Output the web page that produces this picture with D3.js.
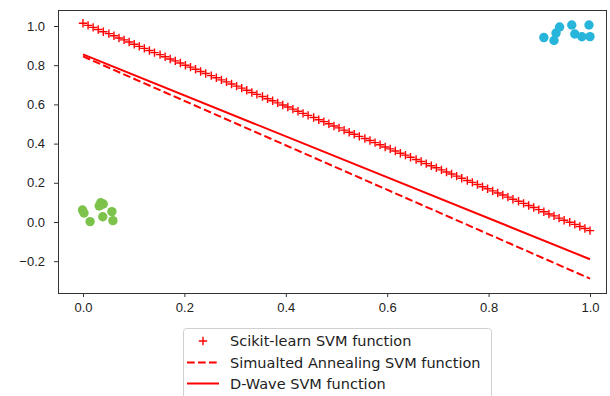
<!DOCTYPE html>
<html>
<head>
<meta charset="utf-8">
<script src="https://cdn.jsdelivr.net/npm/d3@7"></script>
<style>
  body { margin: 0; background: #fff; }
  svg { display: block; font-family: "DejaVu Sans", sans-serif; }
  .axis text { font-size: 13px; fill: #222; }
  .axis path, .axis line { stroke: #333; }
  .legend text { font-size: 14.5px; fill: #222; }
</style>
</head>
<body>
<script>
//execute script when window is loaded
window.onload = function(){

    //SVG dimension variables
    var w = 610, h = 396;

    //scikit-learn SVM function samples
    var scikitX = [0.000, 0.010, 0.020, 0.030, 0.040, 0.051, 0.061, 0.071, 0.081, 0.091,
        0.101, 0.111, 0.121, 0.131, 0.141, 0.152, 0.162, 0.172, 0.182, 0.192,
        0.202, 0.212, 0.222, 0.232, 0.242, 0.253, 0.263, 0.273, 0.283, 0.293,
        0.303, 0.313, 0.323, 0.333, 0.343, 0.354, 0.364, 0.374, 0.384, 0.394,
        0.404, 0.414, 0.424, 0.434, 0.444, 0.455, 0.465, 0.475, 0.485, 0.495,
        0.505, 0.515, 0.525, 0.535, 0.545, 0.556, 0.566, 0.576, 0.586, 0.596,
        0.606, 0.616, 0.626, 0.636, 0.646, 0.657, 0.667, 0.677, 0.687, 0.697,
        0.707, 0.717, 0.727, 0.737, 0.747, 0.758, 0.768, 0.778, 0.788, 0.798,
        0.808, 0.818, 0.828, 0.838, 0.848, 0.859, 0.869, 0.879, 0.889, 0.899,
        0.909, 0.919, 0.929, 0.939, 0.949, 0.960, 0.970, 0.980, 0.990, 1.000];
    var scikitY = [1.014, 1.003, 0.993, 0.982, 0.971, 0.961, 0.950, 0.939, 0.929, 0.918,
        0.907, 0.896, 0.886, 0.875, 0.864, 0.854, 0.843, 0.832, 0.822, 0.811,
        0.800, 0.790, 0.779, 0.768, 0.758, 0.747, 0.736, 0.725, 0.715, 0.704,
        0.693, 0.683, 0.672, 0.661, 0.651, 0.640, 0.629, 0.619, 0.608, 0.597,
        0.587, 0.576, 0.565, 0.554, 0.544, 0.533, 0.522, 0.512, 0.501, 0.490,
        0.480, 0.469, 0.458, 0.448, 0.437, 0.426, 0.416, 0.405, 0.394, 0.383,
        0.373, 0.362, 0.351, 0.341, 0.330, 0.319, 0.309, 0.298, 0.287, 0.277,
        0.266, 0.255, 0.245, 0.234, 0.223, 0.212, 0.202, 0.191, 0.180, 0.170,
        0.159, 0.148, 0.138, 0.127, 0.116, 0.106, 0.095, 0.084, 0.074, 0.063,
        0.052, 0.041, 0.031, 0.020, 0.009, -0.001, -0.012, -0.023, -0.033, -0.044];

    //simulated annealing and d-wave lines (end points)
    var lineX = [0, 1];
    var annealY = [0.845, -0.289];
    var dwaveY = [0.855, -0.190];

    //class -1 points
    var greenX = [-0.001, 0.002, 0.014, 0.035, 0.040, 0.032, 0.039, 0.057, 0.059];
    var greenY = [0.061, 0.046, 0.002, 0.098, 0.092, 0.082, 0.027, 0.053, 0.007];

    //class +1 points
    var blueX = [0.909, 0.929, 0.933, 0.940, 0.964, 0.970, 0.984, 0.998, 1.000];
    var blueY = [0.941, 0.926, 0.964, 0.995, 1.005, 0.959, 0.945, 1.005, 0.946];

    //tick values
    var xTicks = [0.0, 0.2, 0.4, 0.6, 0.8, 1.0];
    var yTicks = [-0.2, 0.0, 0.2, 0.4, 0.6, 0.8, 1.0];

    //legend labels
    var legendLabels = ["Scikit-learn SVM function", "Simualted Annealing SVM function", "D-Wave SVM function"];

    //axes box
    var left = 58, right = 606, top = 10, bottom = 293;

    //create the SVG container
    var container = d3.select("body")
        .append("svg")
        .attr("width", w)
        .attr("height", h);

    //create x scale
    var x = d3.scaleLinear()
        .range([left, right])
        .domain([-25 / 507, 1 + 16 / 507]);

    //create y scale
    var y = d3.scaleLinear()
        .range([bottom, top])
        .domain([-71 / 196, 1 + 16 / 196]);

    var fmt = function(d){
        return d3.format(".1f")(d).replace("-", "\u2212");
    };

    //axes
    var xAxis = container.append("g")
        .attr("class", "axis")
        .attr("transform", "translate(0," + bottom + ")")
        .call(d3.axisBottom(x).tickValues(xTicks).tickFormat(fmt).tickSizeInner(4).tickSizeOuter(0).tickPadding(6));
    xAxis.select(".domain").remove();

    var yAxis = container.append("g")
        .attr("class", "axis")
        .attr("transform", "translate(" + left + ",0)")
        .call(d3.axisLeft(y).tickValues(yTicks).tickFormat(fmt).tickSizeInner(4).tickSizeOuter(0).tickPadding(9));
    yAxis.select(".domain").remove();

    //frame
    container.append("rect")
        .attr("x", left + 0.5)
        .attr("y", top + 0.5)
        .attr("width", right - left)
        .attr("height", bottom - top)
        .style("fill", "none")
        .style("stroke", "#333")
        .style("stroke-width", 1);

    //scatter points
    var pts = [
        { xs: greenX, ys: greenY, color: "#7dc24a" },
        { xs: blueX, ys: blueY, color: "#27b5db" }
    ];
    pts.forEach(function(p){
        container.selectAll(null)
            .data(d3.range(p.xs.length))
            .enter()
            .append("circle")
            .attr("cx", function(i){ return x(p.xs[i]); })
            .attr("cy", function(i){ return y(p.ys[i]); })
            .attr("r", 4.7)
            .style("fill", p.color);
    });

    //line generator
    var line = d3.line()
        .x(function(d){ return x(d[0]); })
        .y(function(d){ return y(d[1]); });

    //d-wave line
    container.append("path")
        .datum(d3.zip(lineX, dwaveY))
        .attr("d", line)
        .style("fill", "none")
        .style("stroke", "#ff0000")
        .style("stroke-width", 2);

    //simulated annealing line
    container.append("path")
        .datum(d3.zip(lineX, annealY))
        .attr("d", line)
        .style("fill", "none")
        .style("stroke", "#ff0000")
        .style("stroke-width", 2)
        .style("stroke-dasharray", "7.7,3.3");

    //scikit plus markers
    container.selectAll(".plus")
        .data(d3.zip(scikitX, scikitY))
        .enter()
        .append("path")
        .attr("class", "plus")
        .attr("transform", function(d){
            return "translate(" + x(d[0]) + "," + y(d[1]) + ")";
        })
        .attr("d", "M-4.2,0H4.2M0,-4.2V4.2")
        .style("stroke", "#ff0000")
        .style("stroke-width", 1.4);

    //legend
    var legend = container.append("g").attr("class", "legend");
    legend.append("rect")
        .attr("x", 183.5)
        .attr("y", 328.5)
        .attr("width", 308)
        .attr("height", 90)
        .attr("rx", 3)
        .style("fill", "#fff")
        .style("fill-opacity", 0.8)
        .style("stroke", "#d0d0d0");

    var rowY = [341, 362.5, 383.5];
    legend.append("path")
        .attr("d", "M" + 203 + "," + (rowY[0] - 4.2) + "V" + (rowY[0] + 4.2) + "M" + 198.8 + "," + rowY[0] + "H" + 207.2)
        .style("stroke", "#ff0000")
        .style("stroke-width", 1.4);
    legend.append("line")
        .attr("x1", 187).attr("x2", 219)
        .attr("y1", rowY[1]).attr("y2", rowY[1])
        .style("stroke", "#ff0000")
        .style("stroke-width", 2)
        .style("stroke-dasharray", "7.7,3.3");
    legend.append("line")
        .attr("x1", 187).attr("x2", 219)
        .attr("y1", rowY[2]).attr("y2", rowY[2])
        .style("stroke", "#ff0000")
        .style("stroke-width", 2);

    legend.selectAll(".lab")
        .data(legendLabels)
        .enter()
        .append("text")
        .attr("class", "lab")
        .attr("x", 230)
        .attr("y", function(d, i){ return rowY[i]; })
        .attr("dy", "0.35em")
        .text(function(d){ return d; });

};
</script>
</body>
</html>
